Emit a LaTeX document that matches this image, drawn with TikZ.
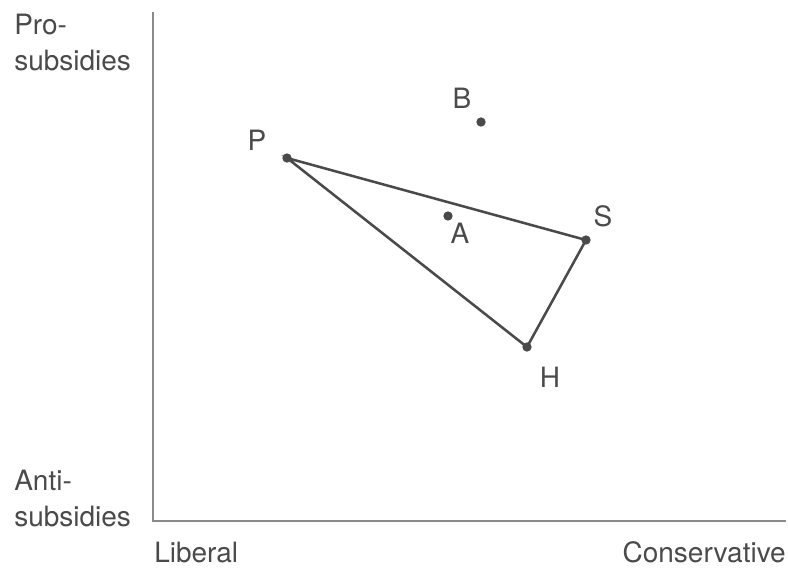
\documentclass[tikz,border=0pt]{standalone}
\usepackage{fontspec}
\setmainfont{TeX Gyre Heros}
\usetikzlibrary{positioning}
\definecolor{inkgray}{HTML}{4A4A4A}
\definecolor{axisgray}{HTML}{8A8A8A}
\tikzset{
  pt/.style={circle, fill=inkgray, inner sep=0pt, minimum size=7pt},
  lbl/.style={inner sep=0pt, text=inkgray, font=\fontsize{21}{27}\selectfont},
  axlbl/.style={lbl, align=left}
}
\begin{document}
\begin{tikzpicture}[x=0.75pt, y=-0.75pt]
    \useasboundingbox (0,0) rectangle (788,569);
    % axes
    \coordinate (O) at (153,521);
    \coordinate (ytop) at (153,12);
    \coordinate (xend) at (786,521);
    \draw[axisgray, line width=1.7pt] (ytop) -- (O) -- (xend);
    \node[axlbl, anchor=north west] (pro) at (14,14) {Pro-\\subsidies};
    \node[axlbl, anchor=north west] (anti) at (14,470) {Anti-\\subsidies};
    \node[lbl, anchor=base west] (lib) at (154,562) {Liberal};
    \node[lbl, anchor=base east] (con) at (786,562) {Conservative};
    % positions
    \node[pt] (P) at (287,158) {};
    \node[pt] (B) at (481,122) {};
    \node[pt] (A) at (448,216) {};
    \node[pt] (S) at (586,240) {};
    \node[pt] (H) at (527,347) {};
    \draw[inkgray, line width=1.9pt] (P.center) -- (S.center) -- (H.center) -- cycle;
    \node[lbl] (Plbl) at (257,140) {P};
    \node[lbl] (Blbl) at (462,98) {B};
    \node[lbl] (Albl) at (460,233) {A};
    \node[lbl] (Slbl) at (603,216) {S};
    \node[lbl] (Hlbl) at (550,377) {H};
  \end{tikzpicture}
\end{document}
